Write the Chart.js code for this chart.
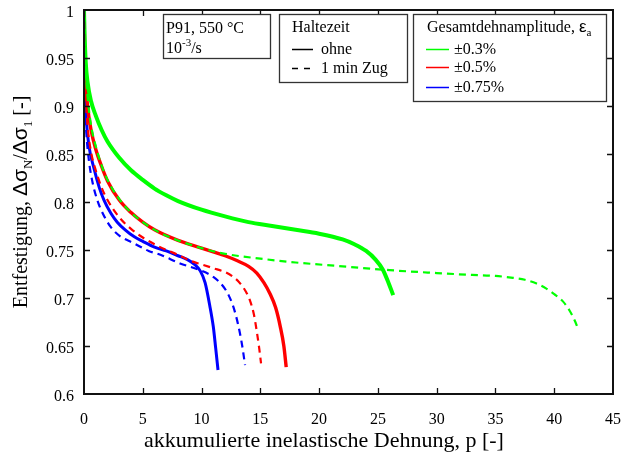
<!DOCTYPE html>
<html>
<head>
<meta charset="utf-8">
<script src="https://cdn.jsdelivr.net/npm/chart.js@4/dist/chart.umd.min.js"></script>
<style>
  html, body { margin: 0; padding: 0; background: #fff; }
  #wrap { width: 624px; height: 462px; }
</style>
</head>
<body>
<div id="wrap"><canvas id="chart" width="624" height="462"></canvas></div>
<script>
// tick values
const xTicks = [0, 5, 10, 15, 20, 25, 30, 35, 40, 45];
const yTicks = [0.6, 0.65, 0.7, 0.75, 0.8, 0.85, 0.9, 0.95, 1];

// ±0.3 %, ohne Haltezeit
const green03X = [0, 0.05, 0.15, 0.3, 0.6, 1, 1.5, 2, 3, 4, 5, 6, 7, 8, 10, 12, 14, 16, 18, 20, 22, 23, 24, 24.8, 25.4, 25.9, 26.3];
const green03Y = [1, 0.975, 0.945, 0.925, 0.905, 0.89, 0.875, 0.863, 0.846, 0.833, 0.823, 0.814, 0.807, 0.801, 0.792, 0.785, 0.779, 0.775, 0.771, 0.767, 0.761, 0.756, 0.749, 0.74, 0.73, 0.716, 0.703];
// ±0.3 %, 1 min Zug
const green03HoldX = [0, 0.05, 0.15, 0.3, 0.6, 1, 1.5, 2, 3, 4, 5, 6, 8, 10, 12, 15, 18, 22, 26, 30, 33, 35, 36.5, 37.5, 38.5, 39.3, 40, 40.7, 41.3, 41.8, 42.05];
const green03HoldY = [1, 0.97, 0.935, 0.91, 0.88, 0.858, 0.838, 0.823, 0.803, 0.789, 0.779, 0.771, 0.76, 0.752, 0.746, 0.741, 0.737, 0.733, 0.729, 0.726, 0.724, 0.723, 0.721, 0.719, 0.715, 0.71, 0.704, 0.697, 0.687, 0.675, 0.667];
// ±0.5 %, ohne
const red05X = [0, 0.05, 0.15, 0.3, 0.6, 1, 1.5, 2, 3, 4, 5, 6, 8, 10, 11, 12, 13, 14, 14.7, 15.3, 15.8, 16.3, 16.7, 17, 17.2];
const red05Y = [1, 0.96, 0.925, 0.9, 0.875, 0.855, 0.837, 0.822, 0.802, 0.789, 0.779, 0.771, 0.76, 0.752, 0.748, 0.744, 0.739, 0.733, 0.726, 0.716, 0.705, 0.69, 0.67, 0.65, 0.628];
// ±0.5 %, 1 min Zug
const red05HoldX = [0, 0.05, 0.15, 0.3, 0.6, 1, 1.5, 2, 3, 4, 5, 6, 7, 8, 9, 10, 11, 12, 12.7, 13.3, 13.8, 14.1, 14.45, 14.7, 14.9, 15.06];
const red05HoldY = [1, 0.95, 0.91, 0.88, 0.852, 0.833, 0.815, 0.802, 0.784, 0.772, 0.763, 0.756, 0.75, 0.745, 0.739, 0.735, 0.731, 0.727, 0.722, 0.715, 0.706, 0.698, 0.683, 0.665, 0.648, 0.632];
// ±0.75 %, ohne
const blue075X = [0, 0.03, 0.1, 0.2, 0.4, 0.85, 1.3, 1.7, 2.3, 2.83, 3.5, 4.25, 5, 6, 7, 8, 8.8, 9.4, 9.9, 10.3, 10.7, 11, 11.2, 11.4];
const blue075Y = [1, 0.95, 0.91, 0.885, 0.86, 0.835, 0.815, 0.802, 0.788, 0.779, 0.771, 0.764, 0.759, 0.753, 0.749, 0.744, 0.74, 0.735, 0.728, 0.716, 0.692, 0.67, 0.648, 0.625];
// ±0.75 %, 1 min Zug
const blue075HoldX = [0, 0.03, 0.1, 0.2, 0.4, 0.7, 1.13, 1.6, 2.27, 3, 4.25, 5.5, 6.5, 8.17, 9.87, 11, 11.85, 12.3, 12.7, 13, 13.27, 13.5, 13.7];
const blue075HoldY = [1, 0.94, 0.9, 0.872, 0.845, 0.822, 0.802, 0.788, 0.774, 0.765, 0.757, 0.749, 0.745, 0.736, 0.729, 0.722, 0.712, 0.703, 0.691, 0.678, 0.663, 0.647, 0.63];

const GREEN = '#00ff00';
const RED = '#ff0000';
const BLUE = '#0000ff';
const SERIF = '"Liberation Serif", "Times New Roman", serif';
const SANS = '"Liberation Sans", "DejaVu Sans", sans-serif';

const toPoints = (xs, ys) => xs.map((x, i) => ({ x, y: ys[i] }));

const series = (xs, ys, color, dashed, width) => ({
  data: toPoints(xs, ys),
  borderColor: color,
  backgroundColor: color,
  borderWidth: width,
  borderDash: dashed ? [7, 5] : [],
  pointRadius: 0,
  showLine: true,
  fill: false,
  cubicInterpolationMode: 'monotone',
});

// text runs with optional sub/superscript
function drawRuns(ctx, x, y, runs) {
  runs.forEach(r => {
    ctx.font = r.font;
    ctx.fillText(r.text, x, y + (r.dy || 0));
    x += ctx.measureText(r.text).width;
  });
  return x;
}
function runsWidth(ctx, runs) {
  return runs.reduce((w, r) => {
    ctx.font = r.font;
    return w + ctx.measureText(r.text).width;
  }, 0);
}

const decorations = {
  id: 'decorations',
  afterDraw(chart) {
    const { ctx, chartArea: a, scales: { x, y } } = chart;
    ctx.save();

    // frame
    ctx.strokeStyle = '#111';
    ctx.lineWidth = 2;
    ctx.strokeRect(a.left, a.top, a.right - a.left, a.bottom - a.top);

    // inward ticks on all four sides
    ctx.lineWidth = 1.3;
    ctx.beginPath();
    xTicks.slice(1, -1).forEach(v => {
      const px = Math.round(x.getPixelForValue(v)) + 0.5;
      ctx.moveTo(px, a.bottom); ctx.lineTo(px, a.bottom - 6);
      ctx.moveTo(px, a.top); ctx.lineTo(px, a.top + 6);
    });
    yTicks.slice(1, -1).forEach(v => {
      const py = Math.round(y.getPixelForValue(v)) + 0.5;
      ctx.moveTo(a.left, py); ctx.lineTo(a.left + 6, py);
      ctx.moveTo(a.right, py); ctx.lineTo(a.right - 6, py);
    });
    ctx.stroke();

    ctx.fillStyle = '#000';
    ctx.textAlign = 'left';
    ctx.textBaseline = 'alphabetic';

    // legend boxes
    const box = (l, t, r, b) => {
      ctx.fillStyle = '#fff';
      ctx.fillRect(l, t, r - l, b - t);
      ctx.strokeStyle = '#333';
      ctx.lineWidth = 1.3;
      ctx.strokeRect(l + 0.5, t + 0.5, r - l, b - t);
      ctx.fillStyle = '#000';
    };
    const f16 = '16px ' + SERIF;
    const f11 = '11px ' + SERIF;

    box(163, 14, 270, 58);
    drawRuns(ctx, 166, 33, [{ text: 'P91, 550 °C', font: f16 }]);
    drawRuns(ctx, 166, 53, [
      { text: '10', font: f16 },
      { text: '-3', font: f11, dy: -7 },
      { text: '/s', font: f16 },
    ]);

    box(279, 14, 407, 82);
    drawRuns(ctx, 292, 32, [{ text: 'Haltezeit', font: f16 }]);
    ctx.strokeStyle = '#000';
    ctx.lineWidth = 1.5;
    ctx.beginPath(); ctx.moveTo(292, 49.5); ctx.lineTo(313, 49.5); ctx.stroke();
    ctx.setLineDash([6, 6]);
    ctx.beginPath(); ctx.moveTo(292, 68.5); ctx.lineTo(313, 68.5); ctx.stroke();
    ctx.setLineDash([]);
    drawRuns(ctx, 321, 54, [{ text: 'ohne', font: f16 }]);
    drawRuns(ctx, 321, 73, [{ text: '1 min Zug', font: f16 }]);

    box(413, 14, 606, 101);
    drawRuns(ctx, 427, 32, [
      { text: 'Gesamtdehnamplitude, ', font: f16 },
      { text: 'ε', font: '17px ' + SANS },
      { text: 'a', font: f11, dy: 4 },
    ]);
    [[GREEN, 49, '±0.3%'], [RED, 67, '±0.5%'], [BLUE, 87, '±0.75%']].forEach(([c, ly, t]) => {
      ctx.strokeStyle = c;
      ctx.lineWidth = 1.5;
      ctx.beginPath(); ctx.moveTo(426, ly + 0.5); ctx.lineTo(449, ly + 0.5); ctx.stroke();
      drawRuns(ctx, 454, ly + 5, [{ text: t, font: f16 }]);
    });

    // x axis title
    ctx.font = '22px ' + SERIF;
    ctx.textAlign = 'center';
    ctx.fillText('akkumulierte inelastische Dehnung, p [-]', 324, 447);

    // y axis title, rotated, with subscripts
    const f20 = '20px ' + SERIF;
    const g20 = '21px ' + SANS;
    const s13 = '13px ' + SERIF;
    const runs = [
      { text: 'Entfestigung, ', font: f20 },
      { text: 'Δσ', font: g20 },
      { text: 'N', font: s13, dy: 5 },
      { text: '/', font: f20 },
      { text: 'Δσ', font: g20 },
      { text: '1', font: s13, dy: 5 },
      { text: ' [-]', font: f20 },
    ];
    ctx.textAlign = 'left';
    const w = runsWidth(ctx, runs);
    ctx.translate(27, 202);
    ctx.rotate(-Math.PI / 2);
    drawRuns(ctx, -w / 2, 0, runs);

    ctx.restore();
  },
};

Chart.defaults.font.family = SERIF;
Chart.defaults.color = '#000';

new Chart(document.getElementById('chart'), {
  type: 'scatter',
  data: {
    datasets: [
      series(green03HoldX, green03HoldY, GREEN, true, 2.2),
      series(red05HoldX, red05HoldY, RED, true, 2.2),
      series(blue075HoldX, blue075HoldY, BLUE, true, 2.2),
      series(green03X, green03Y, GREEN, false, 4),
      series(red05X, red05Y, RED, false, 3.4),
      series(blue075X, blue075Y, BLUE, false, 3),
    ],
  },
  options: {
    responsive: false,
    animation: false,
    layout: { padding: { top: 10, right: 11, left: 0, bottom: 0 } },
    plugins: {
      legend: { display: false },
      tooltip: { enabled: false },
    },
    scales: {
      x: {
        type: 'linear',
        min: 0,
        max: 45,
        afterBuildTicks: s => { s.ticks = xTicks.map(v => ({ value: v })); },
        afterFit: s => {
          s.height = 68;
          s.paddingLeft = 0;
          s.paddingRight = 0;
        },
        grid: { display: false, drawTicks: false },
        border: { display: false },
        ticks: { padding: 16, font: { size: 16 }, maxRotation: 0 },
      },
      y: {
        type: 'linear',
        min: 0.6,
        max: 1,
        afterBuildTicks: s => { s.ticks = yTicks.map(v => ({ value: v })); },
        afterFit: s => {
          s.width = 84;
          s.paddingTop = 0;
          s.paddingBottom = 0;
        },
        grid: { display: false, drawTicks: false },
        border: { display: false },
        ticks: { padding: 10, labelOffset: 3, font: { size: 16 }, callback: v => String(+v.toFixed(2)) },
      },
    },
  },
  plugins: [decorations],
});
</script>
</body>
</html>
